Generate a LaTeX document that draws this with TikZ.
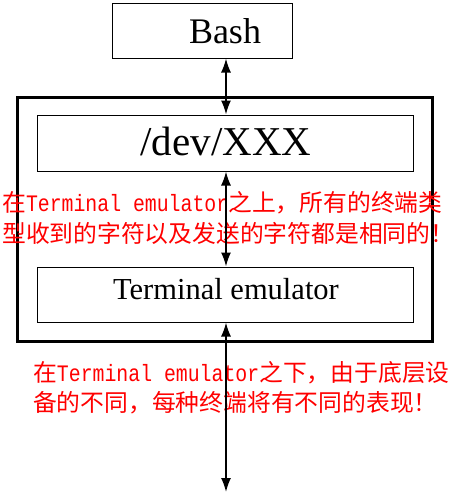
\documentclass[tikz,border=0pt]{standalone}
\usepackage{fontspec}
\setmainfont{Liberation Serif}
\newfontfamily\cjk{Noto Sans CJK SC}
\newfontfamily\monof[FakeStretch=0.84]{Liberation Mono}
\usetikzlibrary{arrows.meta}
\newcommand{\mtxt}[1]{{\monof\fontsize{23.6}{28}\selectfont #1}}
\begin{document}
\begin{tikzpicture}[x=1pt,y=-1pt,
  thinbox/.style={draw, line width=1pt, inner sep=0pt},
  outerbox/.style={draw, line width=3pt, inner sep=0pt},
  lbl/.style={inner sep=0pt, anchor=base},
  redtxt/.style={inner sep=0pt, anchor=base west, text=red, font=\cjk\fontsize{23.8}{28}\selectfont},
  biarrow/.style={line width=1.6pt, {Latex[length=14pt,width=10pt]}-{Latex[length=14pt,width=10pt]}}]
\useasboundingbox (0,0) rectangle (458,493);
\fill[white] (0,0) rectangle (458,493);
% boxes
\node[thinbox, minimum width=180pt, minimum height=55pt] (bash) at (202,30.5) {};
\node[outerbox, minimum width=415pt, minimum height=244pt] (outer) at (224.5,219) {};
\node[thinbox, minimum width=376pt, minimum height=56pt] (dev) at (225,143) {};
\node[thinbox, minimum width=376pt, minimum height=55pt] (te) at (225,294.5) {};
% labels
\node[lbl, font=\fontsize{36}{40}\selectfont] (bashlbl) at (225,43) {Bash};
\node[lbl, font=\fontsize{41}{46}\selectfont] (devlbl) at (226,155) {/dev/XXX};
\node[lbl, font=\fontsize{30.5}{36}\selectfont] (telbl) at (226,299) {Terminal emulator};
% red notes
\node[redtxt] (t1a) at (2,211) {在\mtxt{Terminal emulator}之上，所有的终端类};
\node[redtxt] (t1b) at (2,242) {型收到的字符以及发送的字符都是相同的！};
\node[redtxt] (t2a) at (33,381) {在\mtxt{Terminal emulator}之下，由于底层设};
\node[redtxt] (t2b) at (33,411) {备的不同，每种终端将有不同的表现！};
% arrows
\coordinate (ax) at (226,0);
\coordinate (bot) at (226,492);
\draw[biarrow] (bash.south -| ax) -- (dev.north -| ax);
\draw[biarrow] (dev.south -| ax) -- (te.north -| ax);
\draw[biarrow] (te.south -| ax) -- (bot);
\end{tikzpicture}
\end{document}
